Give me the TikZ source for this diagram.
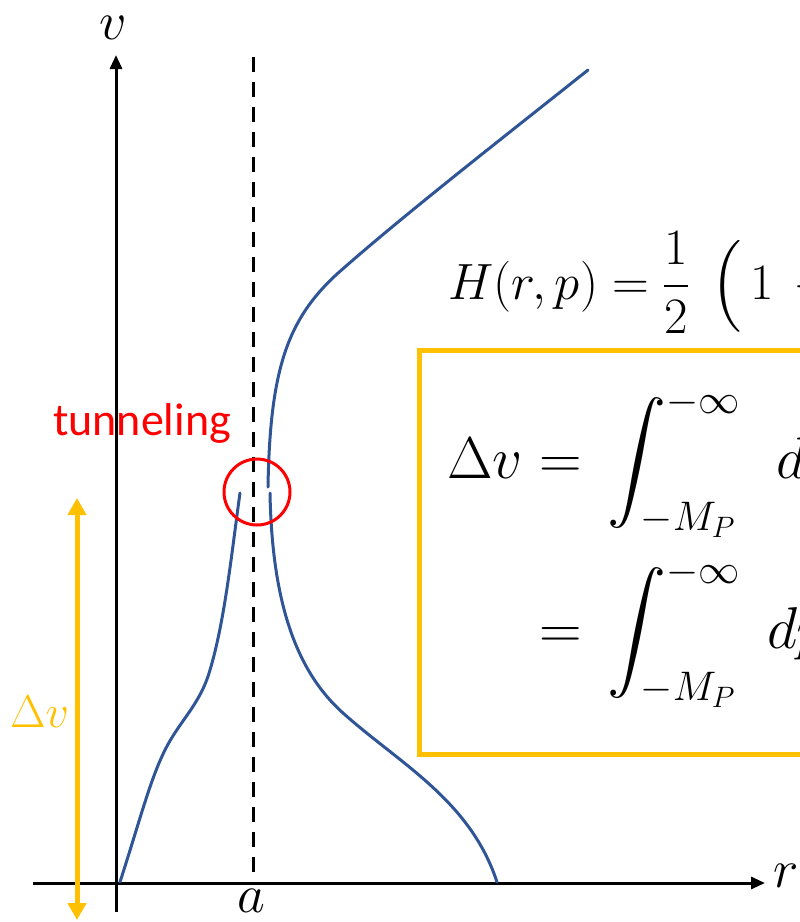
\RequirePackage{fix-cm}
\documentclass[tikz,border=0pt]{standalone}
\usepackage{amsmath}
\usepackage[no-math]{fontspec}
\DeclareFontFamily{OMX}{cmex}{}
\DeclareFontShape{OMX}{cmex}{m}{n}{<->cmex10}{}
\newfontfamily\calib{Carlito}
\usetikzlibrary{arrows.meta}
\definecolor{curveblue}{RGB}{47,85,151}
\definecolor{gold}{RGB}{255,192,0}
\definecolor{tred}{RGB}{255,0,0}
\begin{document}
\begin{tikzpicture}[x=1pt,y=-1pt,
  axis/.style={line width=3pt,-{Triangle[length=14pt,width=12pt]}},
  curve/.style={curveblue,line width=3pt,line cap=round},
  dashline/.style={line width=3pt,dash pattern=on 15pt off 10pt},
  goldarrow/.style={gold,line width=5pt,{Triangle[length=17pt,width=18pt]}-{Triangle[length=17pt,width=18pt]}},
  lab/.style={inner sep=0pt,font=\fontsize{54}{60}\selectfont},
  formula/.style={inner sep=0pt,anchor=base west,font=\fontsize{51}{60}\selectfont},
  boxformula/.style={inner sep=0pt,anchor=base west,font=\fontsize{59}{66}\selectfont}]
\useasboundingbox (0,0) rectangle (800,922);
\clip (0,0) rectangle (800,922);
% axes
\coordinate (vbot) at (116,912);
\coordinate (vtop) at (116,55);
\coordinate (rleft) at (33,883);
\coordinate (rright) at (765,883);
\draw[axis] (vbot) -- (vtop);
\draw[axis] (rleft) -- (rright);
\node[lab,anchor=base] (vlab) at (113,39) {$v$};
\node[lab,anchor=base west] (rlab) at (773,887) {$r$};
\node[lab,anchor=base] (alab) at (251,912) {$a$};
% dashed line
\coordinate (dtop) at (253,57);
\coordinate (dbot) at (253,883);
\draw[dashline] (dtop) -- (dbot);
% curves
\draw[curve] (120,882) .. controls (140,820) and (150,780) .. (165,750)
  .. controls (180,720) and (200,705) .. (210,670)
  .. controls (225,620) and (232,550) .. (240,493);
\draw[curve] (270,493) .. controls (272,600) and (295,670) .. (343,713)
  .. controls (400,764) and (470,800) .. (497,882);
\draw[curve] (268,487) .. controls (270,370) and (287,320) .. (337,274)
  .. controls (400,218) and (500,140) .. (588,70);
% tunneling
\node[draw=tred,line width=3pt,circle,minimum size=66pt,inner sep=0pt] (circ) at (257,492) {};
\node[anchor=base west,inner sep=0pt,text=tred,font=\calib\fontsize{46}{50}\selectfont] (tun) at (53,435) {tunneling};
% delta v arrow
\coordinate (dvtop) at (77,498);
\coordinate (dvbot) at (77,920);
\draw[goldarrow] (dvbot) -- (dvtop);
\node[lab,anchor=base west,text=gold,font=\fontsize{46}{50}\selectfont] (dvlab) at (10,727) {$\Delta v$};
% formulas
\node[formula] (ham) at (448,299) {$H(r,p)=\dfrac{1}{2}\,\;\Bigl(\,1\,-\dfrac{2M}{r}\Bigr)p^{2}$};
\draw[gold,line width=5pt] (419,350) rectangle (830,754);
\node[boxformula] (row1) at (447,478) {$\Delta v=\,\displaystyle\int_{-M_P}^{-\infty}\;\,dp$};
\node[boxformula] (row2) at (447,648) {$\phantom{\Delta v}=\,\displaystyle\int_{-M_P}^{-\infty}\;dp$};
\end{tikzpicture}
\end{document}
